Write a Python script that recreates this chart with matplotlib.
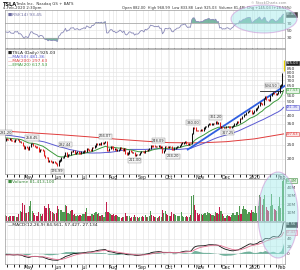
import numpy as np
import pandas as pd
import matplotlib
matplotlib.use("Agg")
import matplotlib.pyplot as plt
from matplotlib.patches import Ellipse
from matplotlib.ticker import FixedLocator, NullFormatter, NullLocator

# -----------------------------
# data (TSLA daily, pre-split)
# -----------------------------
# warm-up closes (late Jan -> Apr 4 2019), only used to seed the indicators
warm_close = [297.04, 297.04, 296.38, 297.46, 308.77, 307.02,
              312.21, 312.89, 321.35, 317.22, 307.51, 305.80, 312.84, 311.81, 308.17, 303.77,
              307.88, 305.64, 302.56, 291.23, 294.71, 298.77, 297.86, 314.74, 319.88,
              294.79, 285.36, 276.54, 276.24, 276.59, 284.14, 290.92, 283.36, 288.96, 289.96,
              275.43, 269.49, 267.47, 273.60, 274.02, 264.53, 260.42, 267.77, 274.83, 278.62,
              279.86, 289.18, 285.88, 291.81, 267.78]

close_apr = [274.96, 273.20, 272.31, 276.06, 268.42, 267.70, 266.38, 273.36, 271.23, 273.26,
             262.75, 263.90, 258.66, 247.63, 235.14, 241.47, 238.69]
close_may = [234.01, 244.10, 255.03, 255.34, 247.06, 244.84, 241.98, 239.52, 227.01, 232.31,
             231.95, 228.33, 211.03, 205.36, 205.08, 192.73, 195.49, 190.63, 188.70, 189.86,
             188.22, 185.16]
close_jun = [178.97, 193.60, 196.59, 204.50, 204.53, 211.03, 222.05, 209.26, 213.91, 214.92,
             225.03, 224.74, 226.43, 219.62, 221.86, 223.64, 219.76, 219.27, 222.84, 223.46]
close_jul = [227.17, 224.55, 234.90, 233.10, 230.34, 230.06, 238.92, 238.60, 245.08, 253.50,
             252.38, 254.86, 253.54, 258.18, 255.68, 260.17, 264.88, 228.82, 228.04, 235.77,
             242.26, 241.61]
close_aug = [233.85, 234.34, 228.32, 230.75, 233.42, 238.30, 235.01, 229.01, 235.00, 219.62,
             215.64, 219.94, 226.83, 225.86, 220.83, 222.15, 211.40, 215.00, 214.08, 215.59,
             221.71, 225.61]
close_sep = [225.01, 220.68, 229.58, 227.45, 231.79, 235.54, 247.10, 245.87, 245.20, 242.81,
             244.79, 243.49, 246.60, 240.62, 241.23, 223.21, 228.70, 242.56, 242.13, 240.87]
close_oct = [244.69, 243.13, 233.03, 231.43, 237.72, 240.05, 244.53, 244.74, 247.89, 256.96,
             257.89, 259.75, 261.97, 256.95, 253.50, 255.58, 254.68, 299.68, 328.13, 327.71,
             316.22, 315.01, 314.92]
close_nov = [313.31, 317.47, 317.22, 326.58, 335.54, 337.14, 345.09, 349.93, 346.11, 349.35,
             352.17, 349.99, 359.52, 352.22, 354.83, 333.04, 336.34, 328.92, 331.29, 329.94]
close_dec = [334.87, 336.20, 333.03, 330.37, 335.89, 339.53, 348.84, 352.70, 359.68, 358.39,
             381.50, 378.99, 393.15, 404.04, 405.59, 419.22, 425.25, 430.94, 430.38, 414.70,
             418.33]
close_jan = [430.26, 443.01, 451.54, 469.06, 492.14, 481.34, 478.15, 524.86, 537.92, 518.50,
             513.49, 510.50, 547.20, 569.56, 572.20, 564.82, 558.02, 566.90, 580.99, 640.81,
             650.57]
close_feb = [780.00, 925.03]

# volume, millions
vol_apr = [7.0, 6.0, 4.9, 5.4, 6.4, 5.6, 5.8, 5.7, 4.8, 5.2, 8.2, 12.0, 10.7, 21.0, 18.6, 10.0, 9.2]
vol_may = [10.7, 18.2, 23.7, 12.0, 9.5, 6.6, 6.1, 6.3, 10.9, 7.8, 6.4, 8.3, 17.5, 15.2, 15.6,
           19.9, 15.6, 12.1, 10.9, 9.2, 7.8, 9.9]
vol_jun = [17.9, 14.4, 12.9, 13.3, 11.1, 10.8, 19.3, 18.2, 9.4, 8.8, 12.2, 12.7, 7.6, 8.4, 6.3,
           6.6, 5.7, 7.3, 6.3, 8.4]
vol_jul = [8.9, 11.1, 15.6, 5.6, 5.6, 6.5, 8.3, 7.0, 9.1, 11.1, 8.2, 9.8, 5.9, 7.0, 6.8, 5.0,
           11.0, 22.4, 11.0, 9.5, 8.0, 7.7]
vol_aug = [8.3, 6.4, 7.0, 5.5, 4.8, 4.9, 3.9, 4.3, 4.8, 9.6, 6.4, 5.9, 5.4, 3.9, 4.2, 4.5, 7.1,
           5.0, 4.4, 3.9, 4.8, 5.0]
vol_sep = [5.4, 4.8, 7.4, 4.6, 5.2, 6.5, 12.3, 7.7, 5.6, 4.7, 4.3, 4.0, 4.9, 6.2, 4.3, 12.7,
           9.4, 11.9, 7.8, 6.7]
vol_oct = [6.1, 6.2, 11.0, 8.2, 8.1, 6.7, 5.9, 5.7, 5.8, 10.2, 6.5, 5.1, 4.5, 5.9, 5.3, 4.7,
           7.0, 29.7, 30.6, 18.9, 12.6, 9.6, 6.9]
vol_nov = [8.3, 8.9, 6.8, 7.9, 9.6, 7.5, 10.5, 9.8, 8.9, 6.7, 6.6, 5.6, 10.6, 9.4, 8.6, 16.9,
           12.3, 7.9, 5.6, 3.5]
vol_dec = [6.1, 6.9, 5.5, 4.5, 7.0, 9.3, 7.6, 6.9, 11.1, 6.6, 18.2, 8.5, 14.1, 18.4, 14.8, 13.3,
           8.1, 10.6, 9.9, 12.6, 10.3]
vol_jan = [9.5, 17.8, 10.1, 17.7, 31.1, 28.4, 19.6, 26.6, 31.0, 16.7, 12.7, 11.8, 17.7, 31.6,
           19.1, 14.3, 13.6, 11.8, 17.8, 29.0, 15.7]
vol_feb = [47.2, 81.4]

# 200-day MA (trading-day index, value)
ma200_idx = [0, 17, 39, 61, 83, 105, 123, 146, 166, 187, 209]
ma200_val = [311, 304, 295, 285, 274, 265, 259, 258, 263, 275, 297.63]

# price labels (trading-day index, value, above/below)
lab_idx = [0, 20, 39, 45, 75, 97, 115, 126, 141, 158, 167, 200]
lab_val = [281.20, 258.45, 176.99, 232.44, 266.07, 211.00, 248.09, 224.20, 330.00, 361.20,
           327.25, 594.50]
lab_up = [True, True, False, True, True, False, True, False, True, True, False, True]

# trend line and resistance drawn on the chart
trend_idx = [137, 211]
trend_val = [232, 651]
resist_idx = [191, 208]
resist_val = [594.50, 594.50]

month_names = ["May", "Jun", "Jul", "Aug", "Sep", "Oct", "Nov", "Dec", "2020", "Feb"]
price_ticks = [200, 250, 300, 350, 400, 450, 500, 550, 600, 650, 700, 750, 800, 850, 900]

# -----------------------------
# derived series
# -----------------------------
close = np.array(close_apr + close_may + close_jun + close_jul + close_aug + close_sep +
                 close_oct + close_nov + close_dec + close_jan + close_feb)
vol = np.array(vol_apr + vol_may + vol_jun + vol_jul + vol_aug + vol_sep +
               vol_oct + vol_nov + vol_dec + vol_jan + vol_feb) * 1e6
n = len(close)
nw = len(warm_close)
allc = pd.Series(warm_close + list(close))

ema20 = allc.ewm(span=20, adjust=False).mean().values[nw:]
ma50 = allc.rolling(50, min_periods=1).mean().values[nw:]
macd_full = allc.ewm(span=12, adjust=False).mean() - allc.ewm(span=26, adjust=False).mean()
sig_full = macd_full.ewm(span=9, adjust=False).mean()
macd = macd_full.values[nw:]
sig = sig_full.values[nw:]
hist = macd - sig
d = allc.diff()
up = d.clip(lower=0).ewm(alpha=1 / 14, adjust=False).mean()
dn = (-d.clip(upper=0)).ewm(alpha=1 / 14, adjust=False).mean()
rsi = (100 - 100 / (1 + up / dn)).values[nw:]

dates = pd.bdate_range("2019-04-05", "2020-02-04")
hol = pd.to_datetime(["2019-04-19", "2019-05-27", "2019-07-04", "2019-09-02",
                      "2019-11-28", "2019-12-25", "2020-01-01", "2020-01-20"])
dates = dates[~dates.isin(hol)]
x = np.arange(n)
month_start = [i for i in range(1, n) if dates[i].month != dates[i - 1].month]
week_start = [i for i in range(1, n) if dates[i].weekday() < dates[i - 1].weekday()]

prev = np.r_[warm_close[-1], close[:-1]]
is_up = close >= prev

# -----------------------------
# figure
# -----------------------------
W, H = 300, 270
fig = plt.figure(figsize=(3.0, 2.7), dpi=100, facecolor="white")
plt.rcParams["font.family"] = ["DejaVu Sans"]
FS = 3.2
BFS = 2.6
GRID = "#e2e2e2"
TXT = "#333333"


def panel(top, bottom):
    ax = fig.add_axes([5 / W, 1 - bottom / H, 280 / W, (bottom - top) / H])
    ax.set_xlim(-0.4, 210.1)
    for s in ax.spines.values():
        s.set_color("#9a9a9a")
        s.set_linewidth(0.5)
    ax.yaxis.tick_right()
    ax.tick_params(axis="y", length=0, pad=1, labelsize=FS, colors=TXT)
    ax.tick_params(axis="x", length=0, pad=0.8, labelsize=3.4, colors="#222222")
    ax.xaxis.set_major_locator(FixedLocator(month_start))
    ax.xaxis.set_minor_locator(FixedLocator(week_start))
    ax.xaxis.set_minor_formatter(NullFormatter())
    ax.grid(True, which="both", axis="x", color=GRID, lw=0.4)
    ax.grid(True, which="major", axis="y", color=GRID, lw=0.4)
    ax.set_axisbelow(True)
    return ax


def value_box(ax, y, txt, ec, fc="white", tc=None):
    ax.text(1.004, y, txt, transform=ax.get_yaxis_transform(), fontsize=BFS,
            color=tc or ec, va="center", ha="left",
            bbox=dict(boxstyle="square,pad=0.1", fc=fc, ec=ec, lw=0.4))


# RSI panel
ax_rsi = panel(10, 48)
ax_rsi.set_ylim(3, 105)
ax_rsi.set_yticks([30, 50, 70])
ax_rsi.set_xticklabels([])
ax_rsi.plot(x, rsi, color="#8a8ab8", lw=0.6)
ax_rsi.axhline(70, color="#a0a0a0", lw=0.5)
ax_rsi.axhline(30, color="#a0a0a0", lw=0.5)
ax_rsi.fill_between(x, rsi, 70, where=rsi > 70, color="#5aa58c", alpha=0.8, lw=0, interpolate=True)
ax_rsi.fill_between(x, rsi, 30, where=rsi < 30, color="#5aa58c", alpha=0.8, lw=0, interpolate=True)
ax_rsi.text(0.01, 0.93, "\u25a0RSI(14) 93.45", transform=ax_rsi.transAxes, fontsize=FS,
            color="#6a6aa0", va="top")
value_box(ax_rsi, rsi[-1], "93.45", "#444444", fc="#444444", tc="white")

# price panel (kept above the volume panel so its date labels stay visible)
ax_p = panel(49, 174)
ax_p.set_zorder(3)
ax_p.set_yscale("log")
ax_p.set_ylim(157, 1155)
box_vals = [925.03, ema20[-1], ma50[-1], 297.63]
shown = [t for t in price_ticks if min(abs(np.log(t / b)) for b in box_vals) > 0.045]
ax_p.yaxis.set_major_locator(FixedLocator(shown))
ax_p.yaxis.set_minor_locator(NullLocator())
ax_p.set_yticklabels([str(t) for t in shown])
ax_p.plot(ma200_idx, ma200_val, color="#e03c3c", lw=0.7)
ax_p.plot(x, ma50, color="#5a5ad2", lw=0.7)
ax_p.plot(x, ema20, color="#3c9a3c", lw=0.7)
ax_p.plot(trend_idx, trend_val, color="#2f5fe0", lw=1.3)
ax_p.plot(resist_idx, resist_val, color="#222222", lw=0.6)
lo = np.minimum(prev, close) * 0.99
hi = np.maximum(prev, close) * 1.01
bar_col = np.where(is_up, "#111111", "#e02020")
ax_p.vlines(x[:-1], lo[:-1], hi[:-1], colors=bar_col[:-1], lw=0.75)
ax_p.vlines(x[-1], lo[-1] * 1.06, hi[-1] * 1.04, colors="#e8d200", lw=1.0)
for i, v, u in zip(lab_idx, lab_val, lab_up):
    ax_p.text(i, v * (1.045 if u else 1 / 1.045), f"{v:.2f}", fontsize=2.6, color=TXT,
              ha="center", va="bottom" if u else "top",
              bbox=dict(boxstyle="square,pad=0.15", fc="#f4f4f4", ec="#8a8a8a", lw=0.3))
leg = [("\u25a0TSLA (Daily) 925.03", "#222222"), ("\u2014MA(50) 481.36", "#5a5ad2"),
       ("\u2014MA(200) 297.63", "#e03c3c"), ("\u2014EMA(20) 617.53", "#3c9a3c")]
for k, (t, c) in enumerate(leg):
    ax_p.text(0.01, 0.985 - k * 0.033, t, transform=ax_p.transAxes, fontsize=FS, color=c, va="top")
value_box(ax_p, 925.03, "925.03", "#222222", fc="#222222", tc="white")
value_box(ax_p, ema20[-1], "617.53", "#3c9a3c", fc="#e6f4e6")
value_box(ax_p, ma50[-1], "481.36", "#5a5ad2", fc="#e8e8fa")
value_box(ax_p, 297.63, "297.63", "#e03c3c", fc="#fbe6e6")
ax_p.set_xticklabels(month_names)

# volume panel
ax_v = panel(179, 221)
ax_v.set_ylim(0, 50e6)
ax_v.set_yticks([10e6, 20e6, 30e6, 40e6])
ax_v.set_yticklabels(["10M", "20M", "30M", "40M"])
ax_v.set_xticklabels([])
ax_v.bar(x, vol, width=0.85, color=np.where(is_up, "#4f9a52", "#c2204e"), lw=0)
ax_v.text(0.01, 0.97, "\u25a0Volume 81,413,100", transform=ax_v.transAxes, fontsize=FS,
          color="#3c8a3c", va="top")
value_box(ax_v, 48e6, "81.4M", "#3c8a3c", fc="#e6f4e6")

# MACD panel
ax_m = panel(222, 264)
ax_m.set_ylim(-29, 86)
ax_m.set_yticks([0, 20, 40])
ax_m.fill_between(x, hist, 0, color="#5aa58c", alpha=0.85, lw=0)
ax_m.plot(x, macd, color="#111111", lw=0.6)
ax_m.plot(x, sig, color="#e07090", lw=0.6)
ax_m.text(0.01, 0.97, "\u2014MACD(12,26,9) 84.561, 57.427, 27.134", transform=ax_m.transAxes,
          fontsize=FS, color="#222222", va="top")
value_box(ax_m, 80, "84.56", "#222222", fc="#222222", tc="white")
value_box(ax_m, sig[-1], "57.43", "#e07090", fc="#fbe6ee")
ax_m.set_xticklabels(month_names)

# header
fig.text(3 / W, 1 - 1.5 / H, "TSLA", fontsize=3.6, weight="bold", color="#111111", va="top")
fig.text(16 / W, 1 - 2 / H, "Tesla Inc.  Nasdaq GS + BATS", fontsize=2.8, color=TXT, va="top")
fig.text(3 / W, 1 - 6 / H, "4-Feb-2020 2:30pm", fontsize=2.8, color=TXT, va="top")
fig.text(286 / W, 1 - 1 / H, "\u00a9 StockCharts.com", fontsize=2.5, color="#909090",
         va="top", ha="right")
fig.text(292 / W, 1 - 5.5 / H,
         "Open 882.00  High 968.99  Low 833.88  Last 925.03  Volume 81.4M  Chg +145.03 (+18.59%)",
         fontsize=2.6, color=TXT, va="top", ha="right")

# highlight ellipses
for cx, cy, ew, eh in [(264, 19, 66, 28), (278, 215, 40, 86)]:
    fig.patches.append(Ellipse((cx / W, 1 - cy / H), ew / W, eh / H, transform=fig.transFigure,
                               fc="#9feaea", ec="#c87ad0", lw=0.8, alpha=0.45, zorder=10))

fig.savefig("out.png", dpi=100, facecolor="white")
